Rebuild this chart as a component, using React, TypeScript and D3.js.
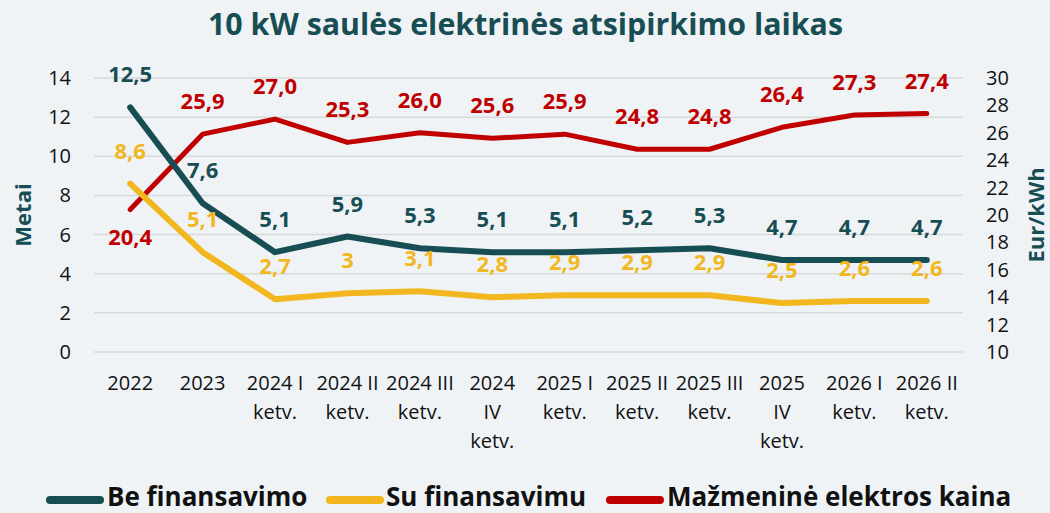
import React from "react";
import * as d3 from "d3";

const categories: string[][] = [
  ["2022"], ["2023"], ["2024 I", "ketv."], ["2024 II", "ketv."], ["2024 III", "ketv."],
  ["2024", "IV", "ketv."], ["2025 I", "ketv."], ["2025 II", "ketv."], ["2025 III", "ketv."],
  ["2025", "IV", "ketv."], ["2026 I", "ketv."], ["2026 II", "ketv."],
];
const beFinansavimo = [12.5, 7.6, 5.1, 5.9, 5.3, 5.1, 5.1, 5.2, 5.3, 4.7, 4.7, 4.7];
const suFinansavimu = [8.6, 5.1, 2.7, 3, 3.1, 2.8, 2.9, 2.9, 2.9, 2.5, 2.6, 2.6];
const kaina = [20.4, 25.9, 27.0, 25.3, 26.0, 25.6, 25.9, 24.8, 24.8, 26.4, 27.3, 27.4];
const leftTicks = [0, 2, 4, 6, 8, 10, 12, 14];
const rightTicks = [10, 12, 14, 16, 18, 20, 22, 24, 26, 28, 30];

const TEAL = "#174E53";
const YELLOW = "#F2B71E";
const RED = "#C00000";
const FONT = "'Open Sans', sans-serif";

const fmt = (v: number) => String(v).replace(".", ",");
const fmt1 = (v: number) => v.toFixed(1).replace(".", ",");

export default function App() {
  const W = 1050, H = 513;
  const x = d3.scaleBand<number>().domain(categories.map((_, i) => i)).range([94, 963]);
  const cx = (i: number) => (x(i) as number) + x.bandwidth() / 2;
  const yL = d3.scaleLinear().domain([0, 14]).range([352, 78]);
  const yR = d3.scaleLinear().domain([10, 30]).range([352, 78]);
  const lineL = d3.line<number>().x((_, i) => cx(i)).y((d) => yL(d));
  const lineR = d3.line<number>().x((_, i) => cx(i)).y((d) => yR(d));

  const legend = [
    { label: "Be finansavimo", color: TEAL, x0: 50, x1: 100, tx: 107 },
    { label: "Su finansavimu", color: YELLOW, x0: 330, x1: 380, tx: 386 },
    { label: "Mažmeninė elektros kaina", color: RED, x0: 610, x1: 660, tx: 667 },
  ];

  return (
    <div style={{ position: "fixed", left: 0, top: 0 }}>
      <svg width={W} height={H} style={{ display: "block", fontFamily: FONT }}>
        <rect width={W} height={H} fill="#EFF3F6" />
        <text x={208} y={35} textAnchor="start" fontSize={30} fontWeight="bold" fill={TEAL} textLength={635} lengthAdjust="spacingAndGlyphs">
          10 kW saulės elektrinės atsipirkimo laikas
        </text>
        {leftTicks.map((t) => (
          <line key={t} x1={94} x2={963} y1={yL(t)} y2={yL(t)} stroke="#D9D9D9" strokeWidth={1.5} />
        ))}
        {leftTicks.map((t) => (
          <text key={t} x={71} y={yL(t) + 7} textAnchor="end" fontSize={20} fill="#111">{t}</text>
        ))}
        {rightTicks.map((t) => (
          <text key={t} x={986} y={yR(t) + 7} textAnchor="start" fontSize={20} fill="#111">{t}</text>
        ))}
        <text transform="translate(31,215) rotate(-90)" textAnchor="middle" fontSize={22} fontWeight="bold" fill={TEAL}>Metai</text>
        <text transform="translate(1044,215) rotate(-90)" textAnchor="middle" fontSize={22} fontWeight="bold" fill={TEAL}>Eur/kWh</text>
        {categories.map((lines, i) => (
          <text key={i} x={cx(i)} textAnchor="middle" fontSize={20} fill="#111">
            {lines.map((l, j) => (
              <tspan key={j} x={cx(i)} y={390 + j * 29}>{l}</tspan>
            ))}
          </text>
        ))}
        <path d={lineR(kaina) as string} fill="none" stroke={RED} strokeWidth={5} strokeLinecap="round" strokeLinejoin="round" />
        <path d={lineL(suFinansavimu) as string} fill="none" stroke={YELLOW} strokeWidth={6} strokeLinecap="round" strokeLinejoin="round" />
        <path d={lineL(beFinansavimo) as string} fill="none" stroke={TEAL} strokeWidth={6} strokeLinecap="round" strokeLinejoin="round" />
        {kaina.map((v, i) => (
          <text key={i} x={cx(i)} y={i === 0 ? yR(v) + 35 : yR(v) - 25} textAnchor="middle" fontSize={22} fontWeight="bold" fill={RED}>{fmt1(v)}</text>
        ))}
        {suFinansavimu.map((v, i) => (
          <text key={i} x={cx(i)} y={yL(v) - 25} textAnchor="middle" fontSize={22} fontWeight="bold" fill={YELLOW}>{fmt(v)}</text>
        ))}
        {beFinansavimo.map((v, i) => (
          <text key={i} x={cx(i)} y={yL(v) - 25} textAnchor="middle" fontSize={22} fontWeight="bold" fill={TEAL}>{fmt(v)}</text>
        ))}
        {legend.map((l) => (
          <g key={l.label}>
            <line x1={l.x0} x2={l.x1} y1={500} y2={500} stroke={l.color} strokeWidth={8} strokeLinecap="round" />
            <text x={l.tx} y={506} fontSize={26} fontWeight="bold" fill="#111">{l.label}</text>
          </g>
        ))}
      </svg>
    </div>
  );
}
